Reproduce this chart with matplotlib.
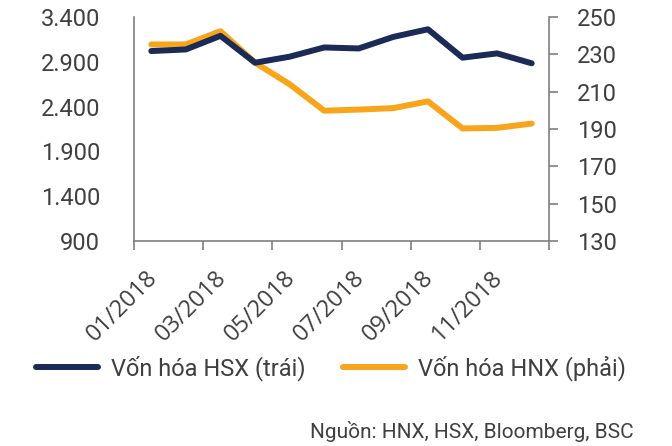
import matplotlib
matplotlib.use("Agg")
import matplotlib.pyplot as plt
import matplotlib.transforms as mtransforms
from matplotlib.lines import Line2D
import numpy as np

months = ["01/2018", "02/2018", "03/2018", "04/2018", "05/2018", "06/2018",
          "07/2018", "08/2018", "09/2018", "10/2018", "11/2018", "12/2018"]
hsx = [3020, 3038, 3190, 2890, 2957, 3060, 3049, 3178, 3263, 2946, 2994, 2883]
hnx = [235.3, 235.3, 242.4, 225.5, 214.0, 199.8, 200.4, 201.2, 204.8, 190.3, 190.6, 192.9]
left_ticks = [900, 1400, 1900, 2400, 2900, 3400]
right_ticks = [130, 150, 170, 190, 210, 230, 250]

navy = "#1c2a57"
orange = "#f9a51b"
txt = "#404040"
axc = "#7f7f7f"

fig = plt.figure(figsize=(6.72, 4.46), dpi=100)
ax = fig.add_axes([134/672, 1-241/446, (549-134)/672, (241-17)/446])
ax2 = ax.twinx()

x = np.arange(len(months))
ax.plot(x, hsx, color=navy, lw=4.3, solid_capstyle="round", solid_joinstyle="round", zorder=3)
ax2.plot(x, hnx, color=orange, lw=4.3, solid_capstyle="round", solid_joinstyle="round", zorder=2)

ax.set_zorder(ax2.get_zorder() + 1)
ax.patch.set_visible(False)

ax.set_xlim(-0.5, len(months) - 0.5)
ax.set_ylim(900, 3400)
ax2.set_ylim(130, 250)

ax.set_yticks(left_ticks)
ax.set_yticklabels([f"{v:,}".replace(",", ".") for v in left_ticks],
                   fontsize=17, color=txt, family="Roboto")
ax.tick_params(axis="y", length=0, pad=24.5)

ax2.set_yticks(right_ticks)
ax2.set_yticklabels([str(v) for v in right_ticks], fontsize=17, color=txt, family="Roboto")
ax2.tick_params(axis="y", length=6.5, width=1.2, color=axc, pad=13.5, direction="out")

label_idx = list(range(0, len(months), 2))
ax.set_xticks(label_idx)
ax.set_xticklabels([months[i] for i in label_idx], rotation=45, ha="right",
                   rotation_mode="anchor", fontsize=17, color=txt, family="Open Sans")
ax.tick_params(axis="x", length=0, pad=18)
shift = mtransforms.ScaledTranslation(-6/100, 0, fig.dpi_scale_trans)
for lab in ax.get_xticklabels():
    lab.set_transform(lab.get_transform() + shift)
ax.set_xticks(np.arange(-0.5, len(months), 2), minor=True)
ax.tick_params(axis="x", which="minor", length=6.5, width=1.2, color=axc)

for a in (ax, ax2):
    a.spines["top"].set_visible(False)
    for s in ("left", "right", "bottom"):
        a.spines[s].set_color(axc)
        a.spines[s].set_linewidth(1.2)
ax.spines["right"].set_visible(False)
ax2.spines["left"].set_visible(False)
ax2.spines["bottom"].set_visible(False)

handles = [Line2D([], [], color=navy, lw=4.3, solid_capstyle="round"),
           Line2D([], [], color=orange, lw=4.3, solid_capstyle="round")]
fig.legend(handles, ["Vốn hóa HSX (trái)", "Vốn hóa HNX (phải)"],
           loc="center", bbox_to_anchor=(331/672, 1-368/446), ncol=2, frameon=False,
           prop={"family": "Roboto", "size": 17}, labelcolor=txt,
           handlelength=2.6, handletextpad=0.55, columnspacing=1.6)

fig.text(634/672, 1-431/446, "Nguồn: HNX, HSX, Bloomberg, BSC", ha="right", va="center",
         fontsize=15, color=txt, family="Roboto")

fig.savefig("out.png", dpi=100)
